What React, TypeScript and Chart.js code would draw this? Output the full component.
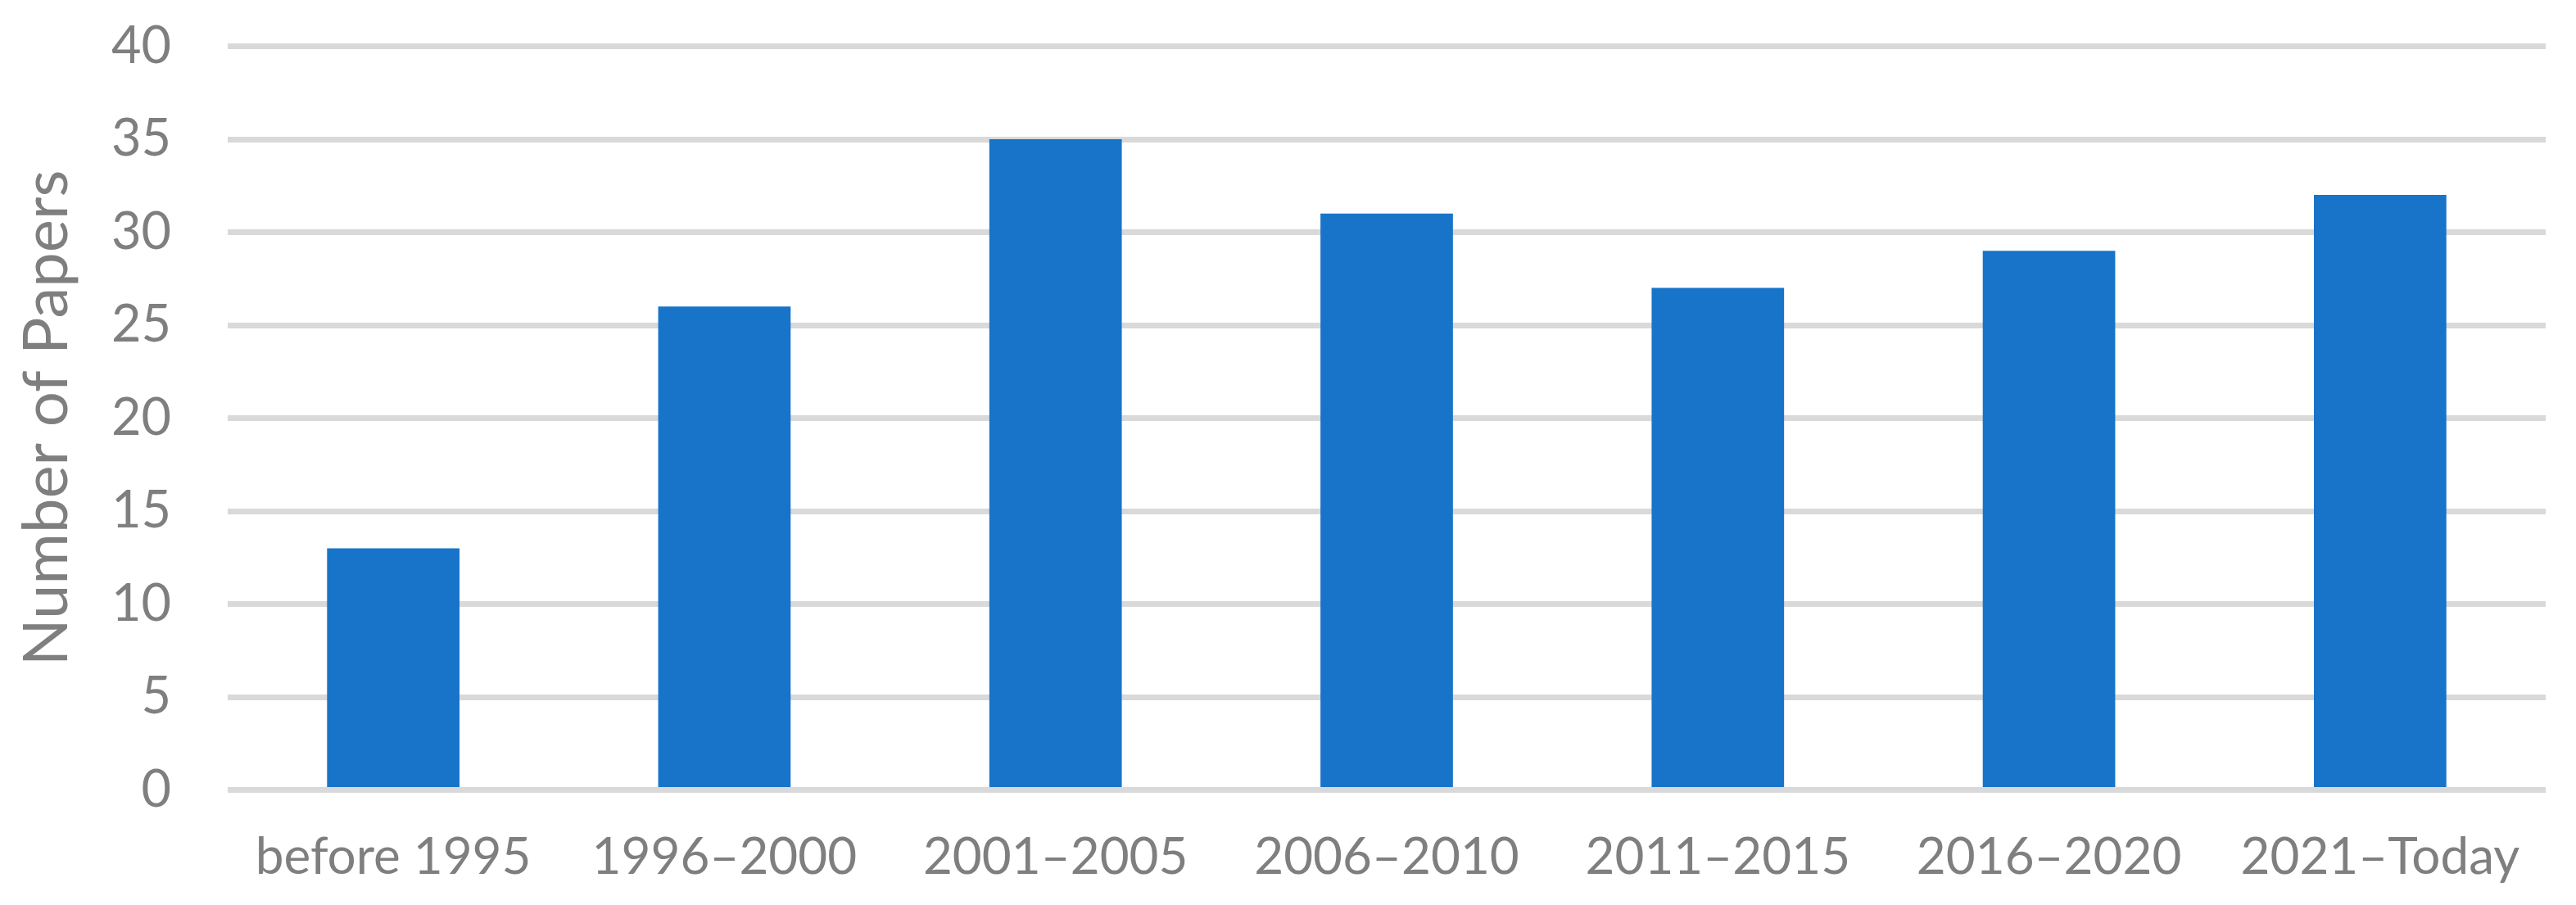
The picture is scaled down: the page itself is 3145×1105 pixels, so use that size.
import React, { useEffect, useRef } from "react";
import { Chart, registerables } from "chart.js";

Chart.register(...registerables);

const categories = [
  "before 1995",
  "1996\u20132000",
  "2001\u20132005",
  "2006\u20132010",
  "2011\u20132015",
  "2016\u20132020",
  "2021\u2013Today",
];
const paperCounts = [13, 26, 35, 31, 27, 29, 32];
const yTitle = "Number of Papers";
const yMin = 0;
const yMax = 40;
const yStep = 5;

export default function App() {
  const ref = useRef<HTMLCanvasElement | null>(null);

  useEffect(() => {
    if (!ref.current) return;
    const grey = "#7f7f7f";
    const chart = new Chart(ref.current, {
      type: "bar",
      data: {
        labels: categories,
        datasets: [
          {
            label: yTitle,
            data: paperCounts,
            backgroundColor: "#1874C9",
            borderWidth: 0,
            categoryPercentage: 1,
            barPercentage: 0.4,
          },
        ],
      },
      options: {
        animation: false,
        responsive: false,
        devicePixelRatio: 1,
        layout: { autoPadding: false, padding: { left: 0, right: 37, top: 56.5, bottom: 0 } },
        plugins: {
          legend: { display: false },
          tooltip: { enabled: false },
        },
        scales: {
          x: {
            grid: { display: false, drawTicks: false },
            border: { display: false },
            ticks: {
              color: grey,
              font: { family: "Lato", size: 62 },
              padding: 45,
              maxRotation: 0,
              autoSkip: false,
            },
            afterFit: (scale: any) => {
              scale.height = 140.5;
            },
          },
          y: {
            min: yMin,
            max: yMax,
            grid: { color: "#d9d9d9", lineWidth: 7, drawTicks: false },
            border: { display: false },
            ticks: {
              stepSize: yStep,
              color: grey,
              font: { family: "Lato", size: 63 },
              padding: 69,
            },
            title: {
              display: true,
              text: yTitle,
              color: grey,
              font: { family: "Lato", size: 76 },
              padding: { top: 12, bottom: 0 },
            },
            afterFit: (scale: any) => {
              scale.width = 278;
              scale.paddingTop = 0;
              scale.paddingBottom = 0;
            },
          },
        },
      },
    });
    return () => chart.destroy();
  }, []);

  return (
    <div style={{ position: "absolute", left: 0, top: 0, width: 3145, height: 1105, background: "#ffffff" }}>
      <canvas ref={ref} width={3145} height={1105} style={{ width: 3145, height: 1105, display: "block" }} />
    </div>
  );
}
